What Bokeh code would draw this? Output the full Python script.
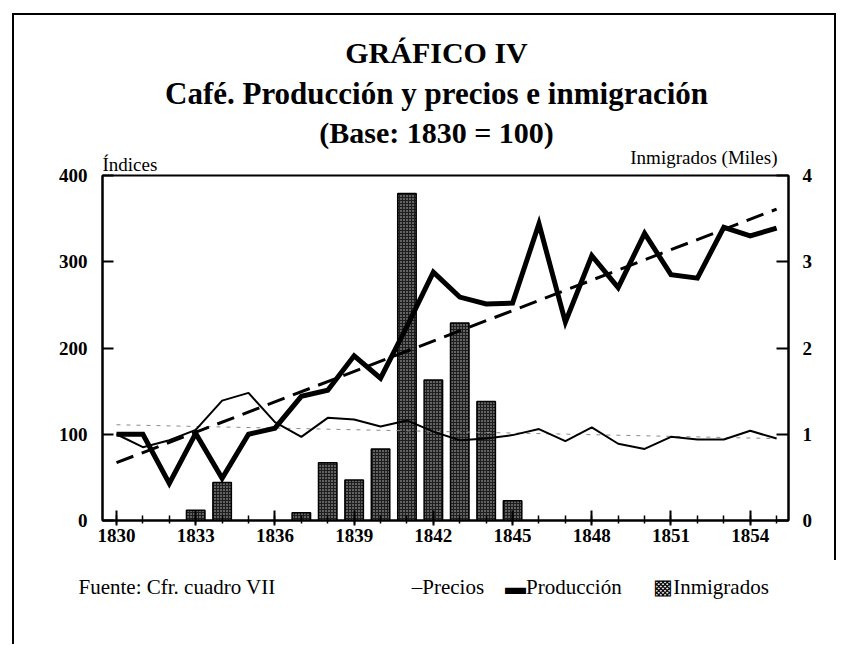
from bokeh.plotting import figure
from bokeh.models import Range1d, LinearAxis, FixedTicker, Label
from bokeh.embed import file_html
from bokeh.resources import INLINE

# ---------------- data ----------------
years = list(range(1830, 1856))
produccion = [100, 100, 43, 101, 49, 100, 107, 144, 151, 191, 165, 225, 288,
              259, 251, 252, 344, 230, 307, 270, 333, 285, 281, 340, 330, 339]
precios = [100, 85, 93, 105, 139, 148, 114, 97, 119, 117, 109, 116, 103,
           93, 95, 99, 106, 92, 108, 89, 83, 97, 94, 94, 104, 95]
inm_years = [1833, 1834, 1837, 1838, 1839, 1840, 1841, 1842, 1843, 1844, 1845]
inmigrados = [0.12, 0.44, 0.09, 0.67, 0.47, 0.83, 3.79, 1.63, 2.29, 1.38, 0.23]
trend_years = [1830, 1855]
trend_produccion = [67, 361]
trend_precios = [111, 95]
x_tick_years = [1830, 1833, 1836, 1839, 1842, 1845, 1848, 1851, 1854]
left_ticks = [0, 100, 200, 300, 400]
right_ticks = [0, 1, 2, 3, 4]
legend_labels = ["Precios", "Producción", "Inmigrados"]

SERIF = "Liberation Serif"
EM = "\u2003"
EN = "\u2002"

p = figure(frame_width=686, frame_height=345,
           min_border_left=90, min_border_right=48,
           min_border_top=160, min_border_bottom=124,
           x_range=Range1d(1829.47, 1855.45), y_range=Range1d(0, 400),
           output_backend="svg", toolbar_location=None, title=None,
           background_fill_color="white", border_fill_alpha=0)
# page frame lines (top, left, right) drawn behind the transparent border area
p.styles = {
    "margin-left": "12px", "margin-top": "8px",
    "background": ("linear-gradient(#000,#000) 0 5px / 100% 2px no-repeat, "
                   "linear-gradient(#000,#000) 0 5px / 2px 100% no-repeat, "
                   "linear-gradient(#000,#000) right 5px / 2px 547px no-repeat, "
                   "#fff"),
}
p.extra_y_ranges = {"inm": Range1d(0, 4)}
p.xgrid.visible = False
p.ygrid.visible = False
p.outline_line_color = "black"
p.outline_line_width = 2

# bars (right axis)
p.vbar(x=inm_years, top=inmigrados, width=0.7, y_range_name="inm",
       fill_color="#1e1e1e", line_color="black", line_width=1.5,
       hatch_pattern="dot", hatch_color="white", hatch_scale=3,
       hatch_weight=1, hatch_alpha=0.75)

# trend lines
p.line(trend_years, trend_precios, line_color="#8a8a8a", line_width=1,
       line_dash="4 6")
p.line(trend_years, trend_produccion, line_color="black", line_width=3,
       line_dash="18 9")

# series
p.line(years, precios, line_color="black", line_width=2)
p.line(years, produccion, line_color="black", line_width=5, line_join="miter")

# axes
xa = p.xaxis[0]
xa.ticker = FixedTicker(ticks=x_tick_years, minor_ticks=years)
xa.axis_line_width = 2
xa.major_tick_in = 10
xa.major_tick_out = 5
xa.minor_tick_in = 5
xa.minor_tick_out = 3
xa.major_tick_line_width = 2
xa.minor_tick_line_width = 1.5
xa.major_label_standoff = 3
xa.major_label_text_font = SERIF
xa.major_label_text_font_style = "bold"
xa.major_label_text_font_size = "19px"
xa.major_label_text_color = "black"

ya = p.yaxis[0]
ya.ticker = FixedTicker(ticks=left_ticks, minor_ticks=[])
ya.axis_line_width = 2
ya.major_tick_in = 11
ya.major_tick_out = 0
ya.major_tick_line_width = 2
ya.minor_tick_line_color = None
ya.major_label_standoff = 15
ya.major_label_text_font = SERIF
ya.major_label_text_font_style = "bold"
ya.major_label_text_font_size = "19px"
ya.major_label_text_color = "black"

ra = LinearAxis(y_range_name="inm", ticker=FixedTicker(ticks=right_ticks, minor_ticks=[]))
ra.axis_line_width = 2
ra.major_tick_in = 12
ra.major_tick_out = 0
ra.major_tick_line_width = 2
ra.minor_tick_line_color = None
ra.major_label_standoff = 14
ra.major_label_text_font = SERIF
ra.major_label_text_font_style = "bold"
ra.major_label_text_font_size = "19px"
ra.major_label_text_color = "black"
p.add_layout(ra, "right")

def lab(x, y, text, size, style="normal", align="left"):
    p.add_layout(Label(x=x, y=y, x_units="screen", y_units="screen", text=text,
                       text_font=SERIF, text_font_size=size,
                       text_font_style=style, text_align=align,
                       text_baseline="alphabetic", text_color="black"), "above")

# titles
lab(334, 123, "GRÁFICO IV", "30px", "bold", "center")
lab(334, 49, "Café. Producción y precios e inmigración", "31px", "bold", "center")
lab(334, -25, "(Base: 1830 = 100)", "30px", "bold", "center")
lab(0, -90, "Índices", "19px")
lab(675, -104, "Inmigrados (Miles)", "19px", "normal", "right")

# source line with the key (one text line below the chart)
key = ("\u2013" + legend_labels[0] + EM + "\u25AC" + legend_labels[1]
       + EM + EN + "\u25A9" + legend_labels[2])
lab(-24, -554, "Fuente: Cfr. cuadro VII" + EM * 6 + EN + key, "21px")

open("out.html", "w").write(file_html(p, INLINE))
